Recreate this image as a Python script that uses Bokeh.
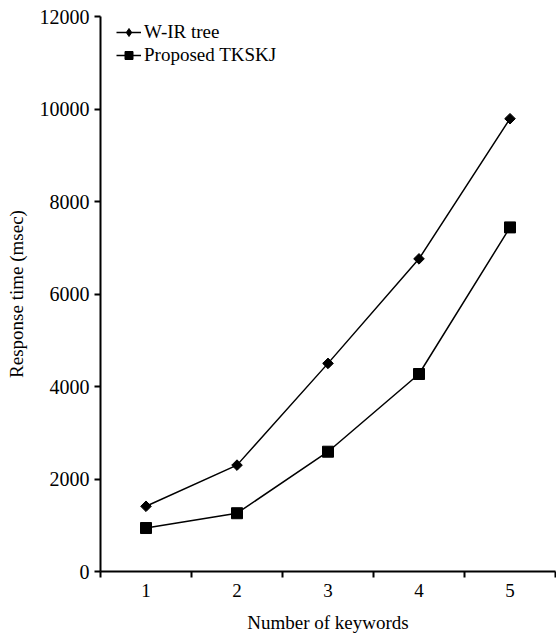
import math
from bokeh.plotting import figure
from bokeh.models import FixedTicker, Legend, LegendItem, Range1d, ColumnDataSource
from bokeh.embed import file_html
from bokeh.resources import INLINE

keywords = [1, 2, 3, 4, 5]
wir_tree = [1410, 2300, 4500, 6760, 9790]
tkskj = [940, 1260, 2590, 4270, 7440]
y_ticks = [0, 2000, 4000, 6000, 8000, 10000, 12000]
x_boundaries = [0.5, 1.5, 2.5, 3.5, 4.5, 5.5]

FONT = "Liberation Serif"
FS = "19px"

p = figure(width=556, height=635, output_backend="svg", toolbar_location=None,
           x_range=Range1d(0.5, 5.5), y_range=Range1d(0, 12000),
           min_border_left=100, min_border_right=1, min_border_top=16, min_border_bottom=64)
p.grid.visible = False
p.outline_line_color = None
p.background_fill_color = "white"
p.border_fill_color = "white"

# x axis
xa = p.xaxis[0]
xa.ticker = FixedTicker(ticks=keywords, minor_ticks=x_boundaries)
xa.major_tick_out = 0
xa.major_tick_in = 0
xa.minor_tick_out = 6
xa.minor_tick_in = 0
xa.minor_tick_line_width = 2
xa.minor_tick_line_color = "black"
xa.axis_line_width = 2
xa.axis_line_color = "black"
xa.major_label_text_font = FONT
xa.major_label_text_font_size = FS
xa.major_label_text_color = "black"
xa.major_label_standoff = 6
xa.axis_label = "Number of keywords"
xa.axis_label_text_font = FONT
xa.axis_label_text_font_size = FS
xa.axis_label_text_font_style = "normal"
xa.axis_label_text_color = "black"
xa.axis_label_standoff = 12

# y axis
ya = p.yaxis[0]
ya.ticker = FixedTicker(ticks=y_ticks)
ya.major_tick_out = 6
ya.major_tick_in = 0
ya.major_tick_line_width = 2
ya.major_tick_line_color = "black"
ya.minor_tick_out = 0
ya.minor_tick_in = 0
ya.axis_line_width = 2
ya.axis_line_color = "black"
ya.major_label_text_font = FONT
ya.major_label_text_font_size = "20px"
ya.major_label_text_color = "black"
ya.major_label_standoff = 5
ya.axis_label = "Response time (msec)"
ya.axis_label_text_font = FONT
ya.axis_label_text_font_size = FS
ya.axis_label_text_font_style = "normal"
ya.axis_label_text_color = "black"
ya.axis_label_standoff = 10

l1 = p.line(keywords, wir_tree, line_color="black", line_width=1.5)
m1 = p.scatter(keywords, wir_tree, marker="square", angle=math.pi / 4, size=7.5,
               fill_color="black", line_color="black")
l2 = p.line(keywords, tkskj, line_color="black", line_width=1.5)
m2 = p.scatter(keywords, tkskj, marker="square", size=11,
               fill_color="black", line_color="black")

# legend-only markers (a single NaN point, so nothing is drawn in the plot)
leg1 = ColumnDataSource(data=dict(x=[float("nan")], y=[float("nan")]))
m1_leg = p.scatter("x", "y", source=leg1, marker="diamond", size=13,
                   fill_color="black", line_color="black")
leg2 = ColumnDataSource(data=dict(x=[float("nan")], y=[float("nan")]))
m2_leg = p.scatter("x", "y", source=leg2, marker="square", size=10,
                   fill_color="black", line_color="black")

legend = Legend(items=[LegendItem(label="W-IR tree", renderers=[l1, m1_leg]),
                       LegendItem(label="Proposed TKSKJ", renderers=[l2, m2_leg])],
                location=(16, 505))
legend.border_line_color = None
legend.background_fill_alpha = 0
legend.padding = 0
legend.margin = 0
legend.spacing = 1
legend.label_height = 20
legend.glyph_height = 20
legend.glyph_width = 25
legend.label_standoff = 3
legend.label_text_font = FONT
legend.label_text_font_size = FS
legend.label_text_color = "black"
p.add_layout(legend)

open("out.html", "w").write(file_html(p, INLINE))
